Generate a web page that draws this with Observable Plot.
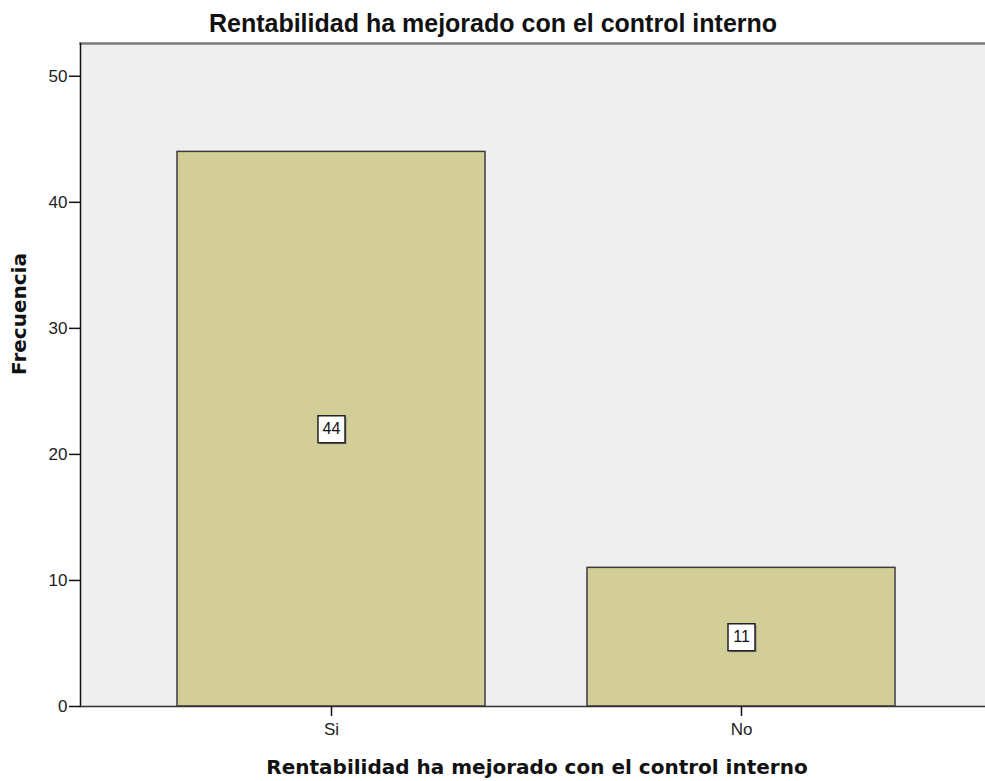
<!DOCTYPE html>
<html><head><meta charset="utf-8">
<script src="https://cdn.jsdelivr.net/npm/d3@7"></script>
<script src="https://cdn.jsdelivr.net/npm/@observablehq/plot@0.6"></script>
<style>body{margin:0;background:#fff}</style>
</head><body><div id="chart"></div>
<script>
const categories = ["Si", "No"];
const counts = [44, 11];
const yTicks = [0, 10, 20, 30, 40, 50];
const titleText = "Rentabilidad ha mejorado con el control interno";
const xLabel = "Rentabilidad ha mejorado con el control interno";
const yLabel = "Frecuencia";

const data = categories.map((c, i) => ({cat: c, n: counts[i]}));
const yMax = 52.6;

const boxSymbol = {
  draw(ctx) {
    const w = 13.5, h = 13.5;
    ctx.moveTo(-w, -h); ctx.lineTo(w, -h); ctx.lineTo(w, h); ctx.lineTo(-w, h); ctx.closePath();
  }
};

const chart = Plot.plot({
  width: 985, height: 781,
  marginLeft: 80, marginRight: 0, marginTop: 43, marginBottom: 75,
  style: {fontFamily: "'Liberation Sans', Arial, sans-serif", fontSize: "17px", color: "#222", background: "#fff"},
  x: {domain: categories, range: [80, 993], paddingInner: 0.248, paddingOuter: 0.236, axis: null},
  y: {domain: [0, yMax], axis: null},
  marks: [
    Plot.frame({fill: "#efefef", stroke: "none"}),
    Plot.barY(data, {x: "cat", y: "n", fill: "#d3ce98", stroke: "#3c3c3c", strokeWidth: 1.5}),
    Plot.frame({anchor: "top", stroke: "#7a7a7a", strokeWidth: 2.5}),
    Plot.frame({anchor: "left", stroke: "#111", strokeWidth: 1.5}),
    Plot.frame({anchor: "bottom", stroke: "#333", strokeWidth: 1.5}),
    Plot.axisY({ticks: yTicks, tickSize: 11, tickPadding: 2, fontSize: 17, stroke: "#111", strokeWidth: 1.5, fill: "#222", label: null}),
    Plot.axisX({tickSize: 10, tickPadding: 6, fontSize: 17, stroke: "#111", strokeWidth: 1.5, fill: "#222", label: null}),
    Plot.dot(data, {x: "cat", y: d => d.n / 2, symbol: boxSymbol, fill: "#888", stroke: "none", dx: 1.5, dy: 1.5}),
    Plot.dot(data, {x: "cat", y: d => d.n / 2, symbol: boxSymbol, fill: "white", stroke: "#222", strokeWidth: 1.5}),
    Plot.text(data, {x: "cat", y: d => d.n / 2, text: d => String(d.n), fontSize: 16, fill: "#111"}),
    Plot.text([titleText], {frameAnchor: "top", lineAnchor: "middle", dx: -40, dy: -20, fontSize: 25, fontWeight: "bold", fill: "#111"}),
    Plot.text([xLabel], {frameAnchor: "bottom", lineAnchor: "middle", dx: 4, dy: 61, fontSize: 20, fontWeight: "bold", fontFamily: "'DejaVu Sans', Verdana, sans-serif", fill: "#111"}),
    Plot.text([yLabel], {frameAnchor: "left", rotate: -90, dx: -61, fontSize: 20, fontWeight: "bold", fontFamily: "'DejaVu Sans', Verdana, sans-serif", fill: "#111"})
  ]
});
document.getElementById("chart").append(chart);
</script>
</body></html>
